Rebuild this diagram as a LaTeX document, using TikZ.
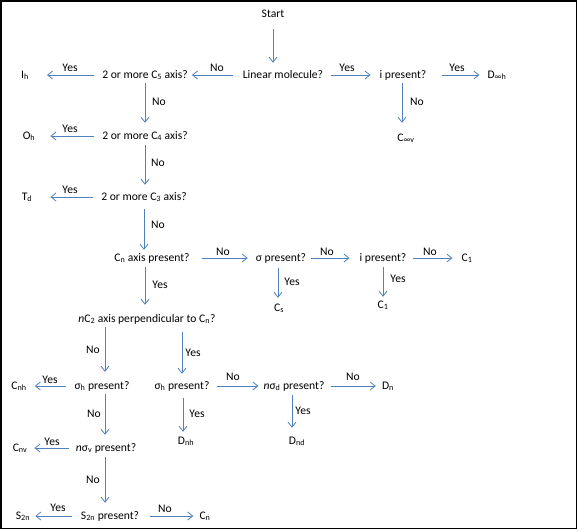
\documentclass[tikz,border=0pt]{standalone}
\usepackage{fontspec}
\setmainfont{Carlito}
\usetikzlibrary{arrows.meta}
\definecolor{arrblue}{HTML}{4F81BD}
\newcommand{\sbs}[1]{\textsubscript{#1}}
\begin{document}
\begin{tikzpicture}[x=1pt,y=-1pt,
  every node/.style={inner sep=0pt, text height=8.5pt, text depth=2.5pt, font=\fontsize{11.6}{14}\selectfont},
  arr/.style={draw=arrblue, line width=0.8pt, -{Straight Barb[length=5pt,width=8pt]}},
  lab/.style={}]
\useasboundingbox (0,0) rectangle (578,530);
\draw[line width=1.5pt] (1,1) rectangle (576.5,528.5);

% nodes
\node (start) at (273,14) {Start};
\node (lin) at (283,75) {Linear molecule?};
\node (c5q) at (145,75) {2 or more C\sbs{5} axis?};
\node (Ih) at (25,75) {I\sbs{h}};
\node (ipr1) at (403,75) {i present?};
\node (Dinfh) at (497,75) {D\sbs{∞h}};
\node (Cinfv) at (406,138) {C\sbs{∞v}};
\node (c4q) at (145,136) {2 or more C\sbs{4} axis?};
\node (Oh) at (29,136) {O\sbs{h}};
\node (c3q) at (144,197) {2 or more C\sbs{3} axis?};
\node (Td) at (27,197) {T\sbs{d}};
\node (cnq) at (152,258) {C\sbs{n} axis present?};
\node (sig) at (281,258) {σ present?};
\node (ipr2) at (383,258) {i present?};
\node (C1a) at (467,258) {C\sbs{1}};
\node (Cs) at (279,308) {C\sbs{s}};
\node (C1b) at (383,305) {C\sbs{1}};
\node (nc2) at (147,319) {\textit{n}C\sbs{2} axis perpendicular to C\sbs{n}?};
\node (sh1) at (102,386) {σ\sbs{h} present?};
\node (Cnh) at (19,386) {C\sbs{nh}};
\node (sh2) at (182,386) {σ\sbs{h} present?};
\node (nsd) at (294,386) {\textit{n}σ\sbs{d} present?};
\node (Dn) at (388,386) {D\sbs{n}};
\node (Dnh) at (186,441) {D\sbs{nh}};
\node (Dnd) at (297,441) {D\sbs{nd}};
\node (nsv) at (106,448) {\textit{n}σ\sbs{v} present?};
\node (Cnv) at (20,448) {C\sbs{nv}};
\node (s2q) at (110,516) {S\sbs{2n} present?};
\node (S2n) at (23,516) {S\sbs{2n}};
\node (Cn) at (205,516) {C\sbs{n}};
\coordinate (col) at (105,0);

% horizontal connectors
\draw[arr, shorten <=10pt, shorten >=4pt] (lin) -- (c5q);
\draw[arr, shorten <=8pt, shorten >=18pt] (c5q) -- (Ih);
\draw[arr, shorten <=8pt, shorten >=9pt] (lin) -- (ipr1);
\draw[arr, shorten <=15pt, shorten >=8pt] (ipr1) -- (Dinfh);
\draw[arr, shorten <=8pt, shorten >=15pt] (c4q) -- (Oh);
\draw[arr, shorten <=8pt, shorten >=18pt] (c3q) -- (Td);
\draw[arr, shorten <=12pt, shorten >=8pt] (cnq) -- (sig);
\draw[arr, shorten <=5pt, shorten >=10pt] (sig) -- (ipr2);
\draw[arr, shorten <=6pt, shorten >=9pt] (ipr2) -- (C1a);
\draw[arr, shorten <=8pt, shorten >=8pt] (sh1) -- (Cnh);
\draw[arr, shorten <=7pt, shorten >=5pt] (sh2) -- (nsd);
\draw[arr, shorten <=6pt, shorten >=6pt] (nsd) -- (Dn);
\draw[arr, shorten <=7pt, shorten >=7pt] (nsv) -- (Cnv);
\draw[arr, shorten <=9pt, shorten >=5pt] (s2q) -- (S2n);
\draw[arr, shorten <=11pt, shorten >=6pt] (s2q) -- (Cn);

% vertical connectors
\draw[arr, shorten <=9.5pt, shorten >=6.5pt] (start.south) -- (start.south |- lin.north);
\draw[arr, shorten <=2.5pt, shorten >=7.5pt] (c5q.south) -- (c4q.north);
\draw[arr, shorten <=3.5pt, shorten >=6.5pt] (c4q.south) -- (c4q.south |- c3q.north);
\draw[arr, shorten <=6.5pt, shorten >=2.5pt] (c3q.south) -- (c3q.south |- cnq.north);
\draw[arr, shorten <=3.5pt, shorten >=8.5pt] (cnq.south -| c4q) -- (c4q |- nc2.north);
\draw[arr, shorten <=2.5pt, shorten >=9.5pt] (ipr1.south -| Cinfv.north) ++(-4,0) -- ([xshift=-4pt]Cinfv.north);
\draw[arr, shorten <=4.5pt, shorten >=4.5pt] (sig.south -| Cs) ++(-1,0) -- ([xshift=-1pt]Cs.north);
\draw[arr, shorten <=3.5pt, shorten >=2.5pt] (ipr2.south) -- (ipr2.south |- C1b.north);
\draw[arr, shorten <=2.5pt, shorten >=8.5pt] (nc2.south -| col) -- (col |- sh1.north);
\draw[arr, shorten <=7.5pt, shorten >=6.5pt] (nc2.south -| sh2) -- (sh2.north);
\draw[arr, shorten <=2.5pt, shorten >=7.5pt] (sh1.south -| col) -- (col |- nsv.north);
\draw[arr, shorten <=3.5pt, shorten >=7.5pt] (nsv.south -| col) -- (col |- s2q.north);
\draw[arr, shorten <=6.5pt, shorten >=3.5pt] (sh2.south) ++(1,0) -- ([xshift=1pt]sh2.south |- Dnh.north);
\draw[arr, shorten <=3.5pt, shorten >=7.5pt] (nsd.south) ++(-2,0) -- ([xshift=-2pt]nsd.south |- Dnd.north);

% labels
\node[lab] at (217,68) {No};
\node[lab] at (70,68) {Yes};
\node[lab] at (347,68) {Yes};
\node[lab] at (457,68) {Yes};
\node[lab] at (159,102) {No};
\node[lab] at (417,102) {No};
\node[lab] at (70,129) {Yes};
\node[lab] at (158,163) {No};
\node[lab] at (70,190) {Yes};
\node[lab] at (158,225) {No};
\node[lab] at (223,252) {No};
\node[lab] at (327,252) {No};
\node[lab] at (430,252) {No};
\node[lab] at (292,282) {Yes};
\node[lab] at (398,279) {Yes};
\node[lab] at (160,285) {Yes};
\node[lab] at (93,350) {No};
\node[lab] at (193,353) {Yes};
\node[lab] at (50,380) {Yes};
\node[lab] at (233,377) {No};
\node[lab] at (353,377) {No};
\node[lab] at (94,414) {No};
\node[lab] at (197,414) {Yes};
\node[lab] at (303,411) {Yes};
\node[lab] at (52,442) {Yes};
\node[lab] at (93,480) {No};
\node[lab] at (58,508) {Yes};
\node[lab] at (165,509) {No};
\end{tikzpicture}
\end{document}
